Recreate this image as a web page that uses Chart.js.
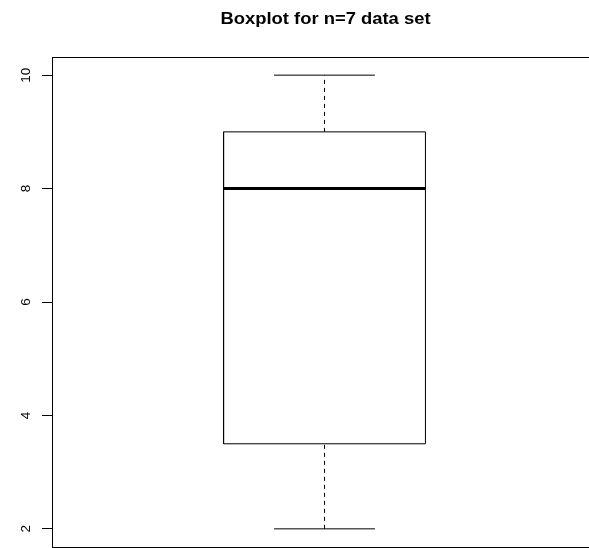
<!DOCTYPE html>
<html>
<head>
<meta charset="utf-8">
<script src="https://cdn.jsdelivr.net/npm/chart.js@4/dist/chart.umd.min.js"></script>
<style>
  html, body { margin: 0; padding: 0; background: #fff; overflow: hidden; }
  #wrap { width: 589px; height: 548px; overflow: hidden; }
</style>
</head>
<body>
<div id="wrap"><canvas id="boxChart" width="600" height="548"></canvas></div>
<script>
// données du boxplot (n=7)
const groups = [1];
const lowerWhisker = [2];
const lowerHinge = [3.5];
const medians = [8];
const upperHinge = [9];
const upperWhisker = [10];
const yTicks = [2, 4, 6, 8, 10];
const titleText = 'Boxplot for n=7 data set';

const boxWex = 0.4;      // largeur de la boîte (unités x)
const stapleWex = 0.5;   // largeur des moustaches / boîte

function seg(points, extra) {
  return Object.assign({
    data: points, showLine: true, pointRadius: 0, borderColor: '#000',
    borderWidth: 1, fill: false, tension: 0
  }, extra || {});
}

const datasets = [];
groups.forEach((g, i) => {
  const lo = g - boxWex / 2, hi = g + boxWex / 2;
  const sLo = g - boxWex * stapleWex / 2, sHi = g + boxWex * stapleWex / 2;
  datasets.push(seg([{x: g, y: lowerWhisker[i]}, {x: g, y: lowerHinge[i]}], {borderDash: [4, 4]}));
  datasets.push(seg([{x: g, y: upperHinge[i]}, {x: g, y: upperWhisker[i]}], {borderDash: [4, 4]}));
  datasets.push(seg([{x: sLo, y: lowerWhisker[i]}, {x: sHi, y: lowerWhisker[i]}]));
  datasets.push(seg([{x: sLo, y: upperWhisker[i]}, {x: sHi, y: upperWhisker[i]}]));
  datasets.push(seg([
    {x: lo, y: lowerHinge[i]}, {x: hi, y: lowerHinge[i]}, {x: hi, y: upperHinge[i]},
    {x: lo, y: upperHinge[i]}, {x: lo, y: lowerHinge[i]}
  ]));
  datasets.push(seg([{x: lo, y: medians[i]}, {x: hi, y: medians[i]}], {borderWidth: 3, borderCapStyle: 'butt'}));
});

// étendue à la R (+4 %)
const yMin = Math.min(...lowerWhisker), yMax = Math.max(...upperWhisker);
const yPad = (yMax - yMin) * 0.04;
const xPad = (groups.length) * 0.04;

const framePlugin = {
  id: 'frame',
  afterDraw(chart) {
    const ctx = chart.ctx, a = chart.chartArea, ys = chart.scales.y;
    ctx.save();
    ctx.strokeStyle = '#000';
    ctx.lineWidth = 1;
    ctx.strokeRect(Math.round(a.left) + 0.5, Math.round(a.top) + 0.5, a.right - a.left, a.bottom - a.top);
    // étiquettes verticales
    ctx.fillStyle = '#000';
    ctx.font = '13.5px "Liberation Sans", Arial, sans-serif';
    ctx.textAlign = 'center';
    ctx.textBaseline = 'alphabetic';
    yTicks.forEach(v => {
      const y = ys.getPixelForValue(v);
      ctx.save();
      ctx.translate(30, y);
      ctx.rotate(-Math.PI / 2);
      ctx.fillText(String(v), 0, 0);
      ctx.restore();
    });
    // titre
    ctx.font = 'bold 16px "Liberation Sans", Arial, sans-serif';
    ctx.save();
    ctx.translate(325.5, 24);
    ctx.scale(1.15, 1);
    ctx.fillText(titleText, 0, 0);
    ctx.restore();
    ctx.restore();
  }
};

new Chart(document.getElementById('boxChart'), {
  type: 'scatter',
  data: { datasets },
  options: {
    responsive: false,
    animation: false,
    layout: { padding: { top: 57, bottom: 1, right: 3, left: 0 } },
    plugins: { legend: { display: false }, tooltip: { enabled: false }, title: { display: false } },
    scales: {
      x: {
        type: 'linear', display: false,
        min: groups[0] - 0.5 - xPad, max: groups[groups.length - 1] + 0.5 + xPad
      },
      y: {
        type: 'linear',
        min: yMin - yPad, max: yMax + yPad,
        afterFit: s => { s.width = 52; },
        afterBuildTicks: s => { s.ticks = yTicks.map(v => ({ value: v })); },
        ticks: { display: false },
        border: { display: false },
        grid: { drawOnChartArea: false, drawTicks: true, tickLength: 10, color: '#000', lineWidth: 1 }
      }
    }
  },
  plugins: [framePlugin]
});
</script>
</body>
</html>
